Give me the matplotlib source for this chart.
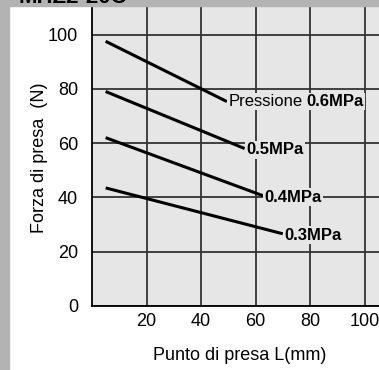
import matplotlib
matplotlib.use("Agg")
import matplotlib.pyplot as plt
from matplotlib.patches import Rectangle

plt.rcParams['font.family'] = ['Liberation Sans', 'DejaVu Sans']

# Data
pressures = ["0.6MPa", "0.5MPa", "0.4MPa", "0.3MPa"]
x_start = [5, 5, 5, 5]
y_start = [97.5, 79, 62, 43.5]
x_end = [49.5, 56, 62.8, 70]
y_end = [75.3, 58, 40.6, 26.6]
xticks = [20, 40, 60, 80, 100]
yticks = [0, 20, 40, 60, 80, 100]

W, H = 379, 370
fig = plt.figure(figsize=(W/100, H/100), dpi=100)
fig.patch.set_facecolor('white')

# gray border (top and left)
fig.patches.append(Rectangle((0, 0), 9/W, 1, transform=fig.transFigure, color='#b3b3b3', zorder=0))
fig.patches.append(Rectangle((0, 1-6/H), 1, 6/H, transform=fig.transFigure, color='#b3b3b3', zorder=0))
fig.text(18/W, 1-3/H, "MHZ2-20C", fontsize=16, fontweight='bold', ha='left', va='baseline', color='black')

ax = fig.add_axes([92/W, (H-306)/H, (W-92)/W, (306-6)/H])
ax.set_facecolor('#e6e6e6')
ax.set_xlim(0, 105.3)
ax.set_ylim(0, 110.5)

ax.set_xticks(xticks)
ax.set_yticks(yticks)
ax.tick_params(length=0, labelsize=13)
ax.tick_params(axis='y', pad=10)
ax.tick_params(axis='x', pad=5)
ax.grid(True, color='#333333', linewidth=1.3)
ax.set_axisbelow(True)
for s in ['top', 'right']:
    ax.spines[s].set_visible(False)
for s in ['left', 'bottom']:
    ax.spines[s].set_color('black')
    ax.spines[s].set_linewidth(1.3)

for i, p in enumerate(pressures):
    ax.plot([x_start[i], x_end[i]], [y_start[i], y_end[i]], color='black', linewidth=2.2, solid_capstyle='butt', zorder=3)
    bb = dict(facecolor='#e6e6e6', edgecolor='none', pad=1.0)
    if i == 0:
        t = ax.annotate("Pressione", (x_end[i], y_end[i]), xytext=(1, 0), textcoords='offset points',
                        fontsize=12, ha='left', va='center', bbox=bb, zorder=4)
        ax.annotate(p, xy=(1, 0.5), xycoords=t, xytext=(3, 0), textcoords='offset points',
                    fontsize=12, fontweight='bold', ha='left', va='center', bbox=bb, zorder=4)
    else:
        ax.annotate(p, (x_end[i], y_end[i]), xytext=(1, -1), textcoords='offset points',
                    fontsize=12, fontweight='bold', ha='left', va='center', bbox=bb, zorder=4)

ax.set_xlabel("Punto di presa L(mm)", fontsize=13)
ax.xaxis.set_label_coords((240-92)/(W-92), -(355-306)/300)
ax.xaxis.label.set_va('center')
ax.set_ylabel("Forza di presa  (N)", fontsize=13)
ax.yaxis.set_label_coords(-(92-40)/(W-92), (306-158)/300)
ax.yaxis.label.set_va('center')

fig.savefig("out.png", dpi=100)
